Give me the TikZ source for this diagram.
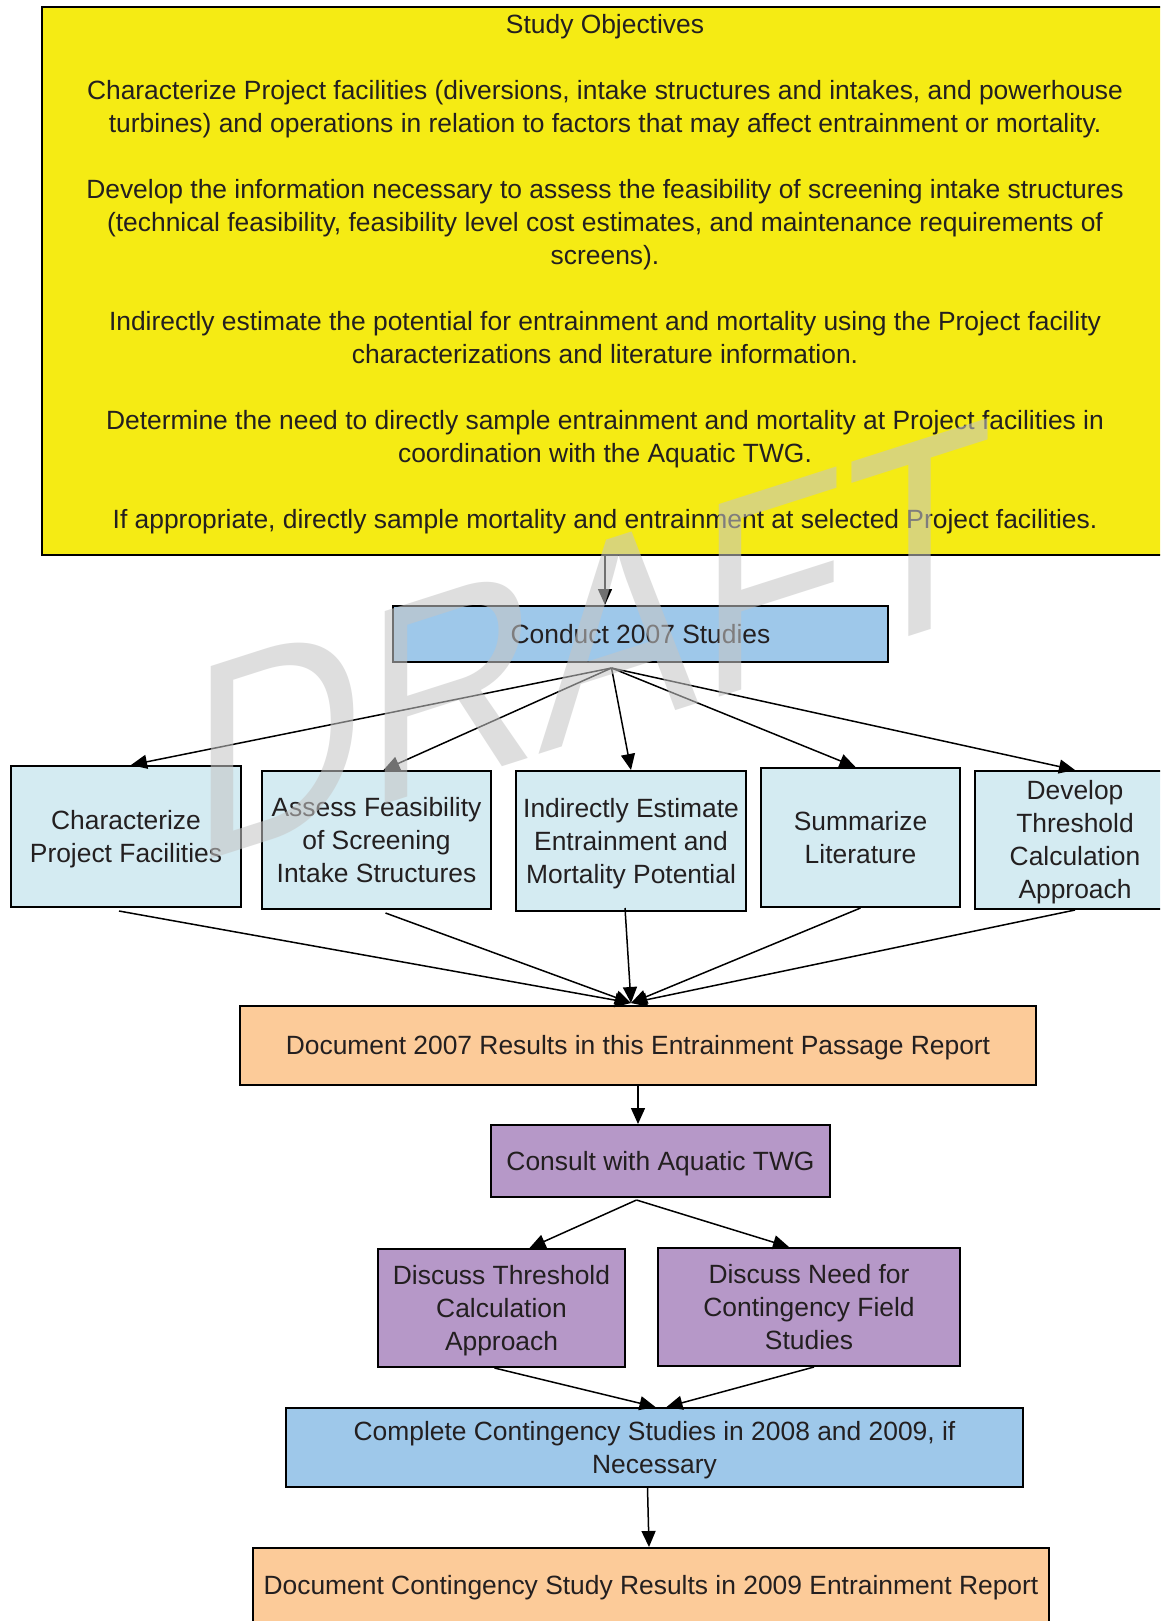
\documentclass[tikz,border=0pt]{standalone}
\usepackage{fontspec}
\setmainfont{Liberation Sans}
\usetikzlibrary{arrows.meta,calc}
\definecolor{objyellow}{RGB}{245,235,20}
\definecolor{midblue}{RGB}{158,200,234}
\definecolor{paleblue}{RGB}{212,235,242}
\definecolor{peach}{RGB}{252,203,153}
\definecolor{lilac}{RGB}{182,152,200}
\definecolor{txt}{RGB}{35,31,32}
\definecolor{draftgray}{RGB}{197,197,197}
\newcommand\sst{\rule[-6.1pt]{0pt}{31.1pt}}
\begin{document}
\begin{tikzpicture}[x=1pt,y=-1pt,
  box/.style={draw=black,line width=2pt,rectangle,inner sep=0pt,align=center,
    font=\fontsize{26.4}{33}\selectfont,text=txt},
  arr/.style={line width=1.5pt,-{Triangle[length=16pt,width=14pt]}},
  txtnode/.style={align=center,inner sep=0pt,font=\fontsize{26.4}{33}\selectfont,text=txt}]
\useasboundingbox (0,0) rectangle (1160,1621);
\clip (0,0) rectangle (1160,1621);
\fill[white] (0,0) rectangle (1160,1621);

% study objectives
\node[box,fill=objyellow,minimum width=1126pt,minimum height=548pt] (obj) at (605,281) {};
\node[txtnode] (objtext) at (605,274.5) {Study Objectives\\[33pt]
Characterize Project facilities (diversions, intake structures and intakes, and powerhouse\\
turbines) and operations in relation to factors that may affect entrainment or mortality.\\[33pt]
Develop the information necessary to assess the feasibility of screening intake structures\\
(technical feasibility, feasibility level cost estimates, and maintenance requirements of\\
screens).\\[33pt]
Indirectly estimate the potential for entrainment and mortality using the Project facility\\
characterizations and literature information.\\[33pt]
Determine the need to directly sample entrainment and mortality at Project facilities in\\
coordination with the Aquatic TWG.\\[33pt]
If appropriate, directly sample mortality and entrainment at selected Project facilities.};

\node[box,fill=midblue,minimum width=495pt,minimum height=56pt] (conduct) at (640.5,634) {\sst Conduct 2007 Studies};

\node[box,fill=paleblue,minimum width=230pt,minimum height=141pt] (ch1) at (126,836.5) {\sst Characterize\\\sst Project Facilities};
\node[box,fill=paleblue,minimum width=229pt,minimum height=138pt] (ch2) at (376.5,840) {\sst Assess Feasibility\\of Screening\\\sst Intake Structures};
\node[box,fill=paleblue,minimum width=230pt,minimum height=140pt] (ch3) at (631,841) {\sst Indirectly Estimate\\Entrainment and\\\sst Mortality Potential};
\node[box,fill=paleblue,minimum width=199pt,minimum height=139pt] (ch4) at (860.5,837.5) {\sst Summarize\\\sst Literature};
\node[box,fill=paleblue,minimum width=200pt,minimum height=138pt] (ch5) at (1075,840) {\sst Develop\\Threshold\\Calculation\\\sst Approach};

\node[box,fill=peach,minimum width=796pt,minimum height=79pt] (doc) at (638,1045.5) {\sst Document 2007 Results in this Entrainment Passage Report};
\node[box,fill=lilac,minimum width=339pt,minimum height=72pt] (consult) at (660.5,1161) {\sst Consult with Aquatic TWG};
\node[box,fill=lilac,minimum width=247pt,minimum height=118pt] (dt) at (501.5,1308) {\sst Discuss Threshold\\Calculation\\\sst Approach};
\node[box,fill=lilac,minimum width=302pt,minimum height=118pt] (dn) at (809,1307) {\sst Discuss Need for\\Contingency Field\\\sst Studies};
\node[box,fill=midblue,minimum width=737pt,minimum height=79pt] (comp) at (654.5,1447.5) {\sst Complete Contingency Studies in 2008 and 2009, if\\\sst Necessary};
\node[box,fill=peach,minimum width=796pt,minimum height=74pt] (last) at (651,1585) {\sst Document Contingency Study Results in 2009 Entrainment Report};

% connectors
\draw[arr] (obj.south) -- (obj.south |- conduct.north);
\coordinate (cs) at ($(conduct.south)+(-29,5)$);
\draw[arr] (cs) -- ([xshift=5pt]ch1.north);
\draw[arr] (cs) -- ([xshift=7pt]ch2.north);
\draw[arr] (cs) -- (ch3.north);
\draw[arr] (cs) -- ([xshift=-5pt]ch4.north);
\draw[arr] (cs) -- (ch5.north);

\coordinate (dtip) at ($(doc.north)+(-7,-2)$);
\draw[arr] ([xshift=-7pt,yshift=-3pt]ch1.south) -- (dtip);
\draw[arr] ([xshift=9pt,yshift=-3pt]ch2.south) -- (dtip);
\draw[arr] ([xshift=-6pt,yshift=4pt]ch3.south) -- (dtip);
\draw[arr] (ch4.south) -- (dtip);
\draw[arr] (ch5.south) -- (dtip);

\draw[arr] (doc.south) -- (doc.south |- consult.north);
\coordinate (cons) at ($(consult.south)+(-24,2)$);
\draw[arr] (cons) -- ([xshift=28pt]dt.north);
\draw[arr] (cons) -- ([xshift=-20pt]dn.north);

\draw[arr] ([xshift=-7pt]dt.south) -- ([xshift=1pt]comp.north);
\draw[arr] ([xshift=5pt]dn.south) -- ([xshift=12pt]comp.north);

\draw[arr] ([xshift=-7pt]comp.south) -- ([xshift=-2pt]last.north);

% watermark
\begin{scope}[shift={(191,866)},yslant=0.32,xscale=0.86]
\node[transform shape,anchor=base west,inner sep=0pt,text=draftgray,opacity=0.57,
  font=\fontsize{280}{280}\selectfont] (draft) at (0,0) {DRAFT};
\end{scope}
\end{tikzpicture}
\end{document}
